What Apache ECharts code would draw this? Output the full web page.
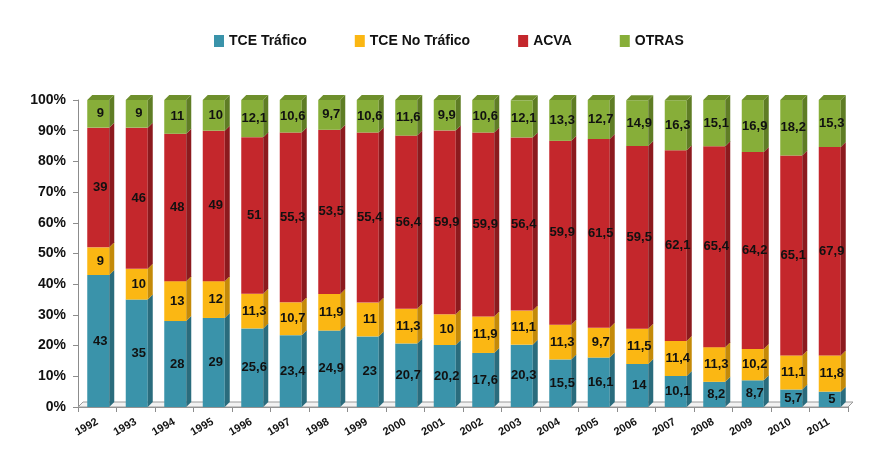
<!DOCTYPE html>
<html>
<head>
<meta charset="utf-8">
<script src="https://cdn.jsdelivr.net/npm/echarts@6/dist/echarts.min.js"></script>
<style>html,body{margin:0;padding:0;background:#fff}#c{width:870px;height:454px}</style>
</head>
<body>
<div id="c"></div>
<script>
const years = ['1992','1993','1994','1995','1996','1997','1998','1999','2000','2001','2002','2003','2004','2005','2006','2007','2008','2009','2010','2011'];
const tceTrafico = [43,35,28,29,25.6,23.4,24.9,23,20.7,20.2,17.6,20.3,15.5,16.1,14,10.1,8.2,8.7,5.7,5];
const tceNoTrafico = [9,10,13,12,11.3,10.7,11.9,11,11.3,10,11.9,11.1,11.3,9.7,11.5,11.4,11.3,10.2,11.1,11.8];
const acva = [39,46,48,49,51,55.3,53.5,55.4,56.4,59.9,59.9,56.4,59.9,61.5,59.5,62.1,65.4,64.2,65.1,67.9];
const otras = [9,9,11,10,12.1,10.6,9.7,10.6,11.6,9.9,10.6,12.1,13.3,12.7,14.9,16.3,15.1,16.9,18.2,15.3];
const yTicks = ['0%','10%','20%','30%','40%','50%','60%','70%','80%','90%','100%'];

const seriesDefs = [
  {name:'TCE Tráfico', values:tceTrafico, front:'#3a93aa', side:'#2a6c7d', top:'#4fa7bb'},
  {name:'TCE No Tráfico', values:tceNoTrafico, front:'#fbb713', side:'#c48a08', top:'#ffc940'},
  {name:'ACVA', values:acva, front:'#c4272c', side:'#8c1a1e', top:'#d9484c'},
  {name:'OTRAS', values:otras, front:'#87ae39', side:'#5f7d25', top:'#6e8f2c'}
];

const chart = echarts.init(document.getElementById('c'));
const cum = years.map(() => 0);
const W = 22, D = 5;
const FONT = '"Liberation Sans", Arial, sans-serif';

const series = seriesDefs.map((s, si) => {
  const data = s.values.map((v, i) => {
    const b = cum[i];
    cum[i] = b + v;
    return [i, b, Math.min(b + v, 100), v];
  });
  const isTop = si === seriesDefs.length - 1;
  return {
    name: s.name,
    type: 'custom',
    itemStyle: {color: s.front},
    encode: {x: 0, y: [1, 2]},
    data: data,
    z: 2,
    renderItem: function (params, api) {
      const i = api.value(0);
      const p0 = api.coord([i, api.value(1)]);
      const p1 = api.coord([i, api.value(2)]);
      const x0 = p0[0] - W / 2 + 1;
      const yb = p0[1], yt = p1[1];
      const v = api.value(3);
      const children = [
        {type: 'rect', shape: {x: x0, y: yt, width: W, height: yb - yt}, style: {fill: s.front}},
        {type: 'polygon', shape: {points: [[x0 + W, yb], [x0 + W + D, yb - D], [x0 + W + D, yt - D], [x0 + W, yt]]}, style: {fill: s.side}}
      ];
      if (isTop) {
        children.push({type: 'polygon', shape: {points: [[x0, yt], [x0 + D, yt - D], [x0 + W + D, yt - D], [x0 + W, yt]]}, style: {fill: s.top}});
      }
      children.push({
        type: 'text',
        z2: 10,
        style: {
          text: String(v).replace('.', ','),
          x: x0 + W / 2 + 2, y: (yb + yt) / 2,
          align: 'center', verticalAlign: 'middle',
          font: 'bold 13px ' + FONT, fill: '#111'
        }
      });
      return {type: 'group', children: children};
    }
  };
});

chart.setOption({
  animation: false,
  backgroundColor: '#fff',
  legend: {
    top: 29, left: 209,
    itemWidth: 10, itemHeight: 12, itemGap: 48,
    icon: 'rect',
    textStyle: {fontFamily: FONT, fontWeight: 'bold', fontSize: 14, color: '#111'},
    data: seriesDefs.map(s => s.name)
  },
  grid: {left: 78, right: 22, top: 100, bottom: 47},
  xAxis: {
    type: 'category', data: years,
    axisLine: {lineStyle: {color: '#8c8c8c'}},
    axisTick: {show: true, lineStyle: {color: '#8c8c8c'}},
    axisLabel: {rotate: 30, fontFamily: FONT, fontWeight: 'bold', fontSize: 11, color: '#111', margin: 14}
  },
  yAxis: {
    type: 'value', min: 0, max: 100, interval: 10,
    axisLine: {show: true, lineStyle: {color: '#8c8c8c'}},
    axisTick: {show: true, lineStyle: {color: '#8c8c8c'}},
    splitLine: {show: false},
    axisLabel: {fontFamily: FONT, fontWeight: 'bold', fontSize: 14, color: '#111', margin: 12,
      formatter: function (v) { return yTicks[Math.round(v / 10)]; }}
  },
  series: series
});

// floor
const g = chart.getModel().getComponent('grid', 0).coordinateSystem.getRect();
chart.setOption({
  graphic: [{
    type: 'polygon', z: 1,
    shape: {points: [[g.x, g.y + g.height], [g.x + D, g.y + g.height - D], [g.x + g.width + D, g.y + g.height - D], [g.x + g.width, g.y + g.height]]},
    style: {fill: '#f2f2f2', stroke: '#9a9a9a', lineWidth: 1}
  }]
});
</script>
</body>
</html>
